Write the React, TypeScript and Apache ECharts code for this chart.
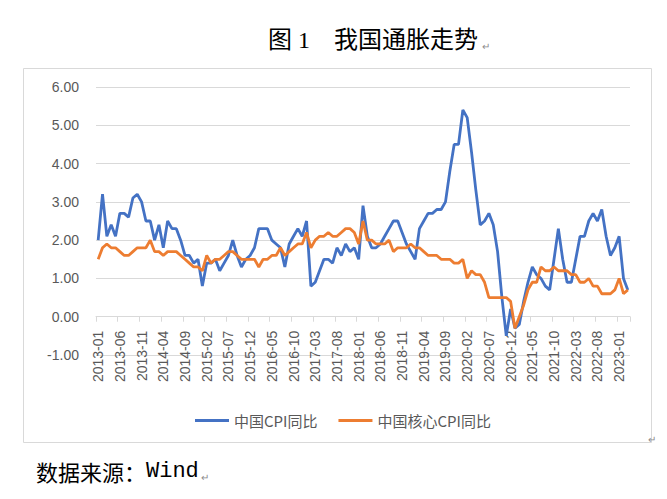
import { useEffect, useRef } from 'react';
import * as echarts from 'echarts';

// 月份 2013-01 ~ 2023-03
const months: string[] = [];
for (let y = 2013; y <= 2023; y++) {
  for (let m = 1; m <= 12; m++) {
    if (y === 2023 && m > 3) break;
    months.push(`${y}-${m < 10 ? '0' + m : m}`);
  }
}

// 中国CPI同比
const cpi = [
  2.0, 3.2, 2.1, 2.4, 2.1, 2.7, 2.7, 2.6, 3.1, 3.2, 3.0, 2.5,
  2.5, 2.0, 2.4, 1.8, 2.5, 2.3, 2.3, 2.0, 1.6, 1.6, 1.4, 1.5,
  0.8, 1.4, 1.4, 1.5, 1.2, 1.4, 1.6, 2.0, 1.6, 1.3, 1.5, 1.6,
  1.8, 2.3, 2.3, 2.3, 2.0, 1.9, 1.8, 1.3, 1.9, 2.1, 2.3, 2.1,
  2.5, 0.8, 0.9, 1.2, 1.5, 1.5, 1.4, 1.8, 1.6, 1.9, 1.7, 1.8,
  1.5, 2.9, 2.1, 1.8, 1.8, 1.9, 2.1, 2.3, 2.5, 2.5, 2.2, 1.9,
  1.7, 1.5, 2.3, 2.5, 2.7, 2.7, 2.8, 2.8, 3.0, 3.8, 4.5, 4.5,
  5.4, 5.2, 4.3, 3.3, 2.4, 2.5, 2.7, 2.4, 1.7, 0.5, -0.5, 0.2,
  -0.3, -0.2, 0.4, 0.9, 1.3, 1.1, 1.0, 0.8, 0.7, 1.5, 2.3, 1.5,
  0.9, 0.9, 1.5, 2.1, 2.1, 2.5, 2.7, 2.5, 2.8, 2.1, 1.6, 1.8,
  2.1, 1.0, 0.7,
];

// 中国核心CPI同比
const coreCpi = [
  1.5, 1.8, 1.9, 1.8, 1.8, 1.7, 1.6, 1.6, 1.7, 1.8, 1.8, 1.8,
  2.0, 1.7, 1.7, 1.6, 1.7, 1.7, 1.7, 1.6, 1.5, 1.4, 1.3, 1.3,
  1.2, 1.6, 1.4, 1.5, 1.5, 1.6, 1.7, 1.7, 1.6, 1.5, 1.5, 1.5,
  1.5, 1.3, 1.5, 1.5, 1.6, 1.6, 1.8, 1.6, 1.7, 1.8, 1.9, 1.9,
  2.2, 1.8, 2.0, 2.1, 2.1, 2.2, 2.1, 2.1, 2.2, 2.3, 2.3, 2.2,
  1.9, 2.5, 2.0, 2.0, 1.9, 1.9, 1.9, 2.0, 1.7, 1.8, 1.8, 1.8,
  1.9, 1.8, 1.8, 1.7, 1.6, 1.6, 1.6, 1.5, 1.5, 1.5, 1.4, 1.4,
  1.5, 1.0, 1.2, 1.1, 1.1, 0.9, 0.5, 0.5, 0.5, 0.5, 0.5, 0.4,
  -0.3, 0.0, 0.3, 0.7, 0.9, 0.9, 1.3, 1.2, 1.2, 1.3, 1.2, 1.2,
  1.2, 1.1, 1.1, 0.9, 0.9, 1.0, 0.8, 0.8, 0.6, 0.6, 0.6, 0.7,
  1.0, 0.6, 0.7,
];

const seriesNames = ['中国CPI同比', '中国核心CPI同比'];
const yMin = -1;
const yMax = 6;

const GRAY = '#595959';
const LINE_GRAY = '#d9d9d9';
const MARK = '#8c8c8c';

// grid geometry, the category axis sits on the 0 line like in Excel
const GRID_TOP = 87;
const GRID_BOTTOM = 144;
const GRID_H = 499 - GRID_TOP - GRID_BOTTOM;
const ZERO_OFFSET = -(GRID_H * (0 - yMin)) / (yMax - yMin);

function App() {
  const divEL = useRef<HTMLDivElement>(null);

  useEffect(() => {
    const instance = echarts.init(divEL.current as any, undefined, { renderer: 'svg' });

    const option: echarts.EChartsOption = {
      animation: false,
      grid: { left: 96, right: 37, top: GRID_TOP, bottom: GRID_BOTTOM, containLabel: false },
      legend: {
        data: seriesNames,
        left: 190,
        top: 408,
        icon: 'rect',
        itemWidth: 34,
        itemHeight: 3,
        itemGap: 21,
        textStyle: { color: GRAY, fontSize: 15, fontFamily: "'Noto Sans CJK SC'" },
      },
      xAxis: {
        type: 'category',
        data: months,
        boundaryGap: true,
        position: 'bottom',
        offset: ZERO_OFFSET,
        axisLine: { onZero: false, lineStyle: { color: LINE_GRAY, width: 1 } },
        axisTick: { show: true, interval: 4, length: 5, lineStyle: { color: LINE_GRAY } },
        axisLabel: {
          interval: 4,
          rotate: 90,
          margin: 14,
          color: GRAY,
          fontSize: 14,
          fontFamily: "'Liberation Sans'",
          padding: [9, 0, 0, 0],
        },
        splitLine: { show: false },
      },
      yAxis: {
        type: 'value',
        min: yMin,
        max: yMax,
        interval: 1,
        axisLine: { show: false },
        axisTick: { show: false },
        axisLabel: {
          margin: 17,
          color: GRAY,
          fontSize: 14,
          fontFamily: "'Liberation Sans'",
          formatter: (v: number) => v.toFixed(2),
        },
        splitLine: { lineStyle: { color: LINE_GRAY, width: 1 } },
      },
      series: [
        {
          name: seriesNames[0],
          type: 'line',
          data: cpi,
          symbol: 'none',
          lineStyle: { color: '#4472c4', width: 2.8 },
          itemStyle: { color: '#4472c4' },
        },
        {
          name: seriesNames[1],
          type: 'line',
          data: coreCpi,
          symbol: 'none',
          lineStyle: { color: '#ed7d31', width: 2.8 },
          itemStyle: { color: '#ed7d31' },
        },
      ],
      graphic: [
        {
          type: 'rect',
          z: -1,
          shape: { x: 23.5, y: 68.5, width: 628, height: 374 },
          style: { fill: 'none', stroke: LINE_GRAY, lineWidth: 1 },
        },
        {
          type: 'text',
          x: 268,
          y: 40,
          style: {
            text: '图 1　我国通胀走势',
            fill: '#000',
            fontSize: 24,
            fontFamily: "'Liberation Serif', 'Noto Sans CJK SC'",
            verticalAlign: 'middle',
          },
        },
        {
          type: 'text',
          x: 482,
          y: 46,
          style: { text: '↵', fill: MARK, fontSize: 10, verticalAlign: 'middle' },
        },
        {
          type: 'text',
          x: 36,
          y: 471,
          style: {
            text: '数据来源：',
            fill: '#000',
            fontSize: 22,
            fontFamily: "'Noto Sans CJK SC'",
            verticalAlign: 'middle',
          },
        },
        {
          type: 'text',
          x: 146,
          y: 471,
          style: {
            text: 'Wind',
            fill: '#000',
            fontSize: 22,
            fontFamily: "'Liberation Mono'",
            verticalAlign: 'middle',
          },
        },
        {
          type: 'text',
          x: 201,
          y: 477,
          style: { text: '↵', fill: MARK, fontSize: 10, verticalAlign: 'middle' },
        },
        {
          type: 'text',
          x: 648,
          y: 439,
          style: { text: '↵', fill: MARK, fontSize: 10, verticalAlign: 'middle' },
        },
      ],
    };

    instance.setOption(option);

    return () => {
      instance.dispose();
    };
  }, []);

  return (
    <div
      ref={divEL}
      style={{ position: 'absolute', left: 0, top: 0, width: '667px', height: '499px', background: '#fff' }}
    ></div>
  );
}

export default App;
